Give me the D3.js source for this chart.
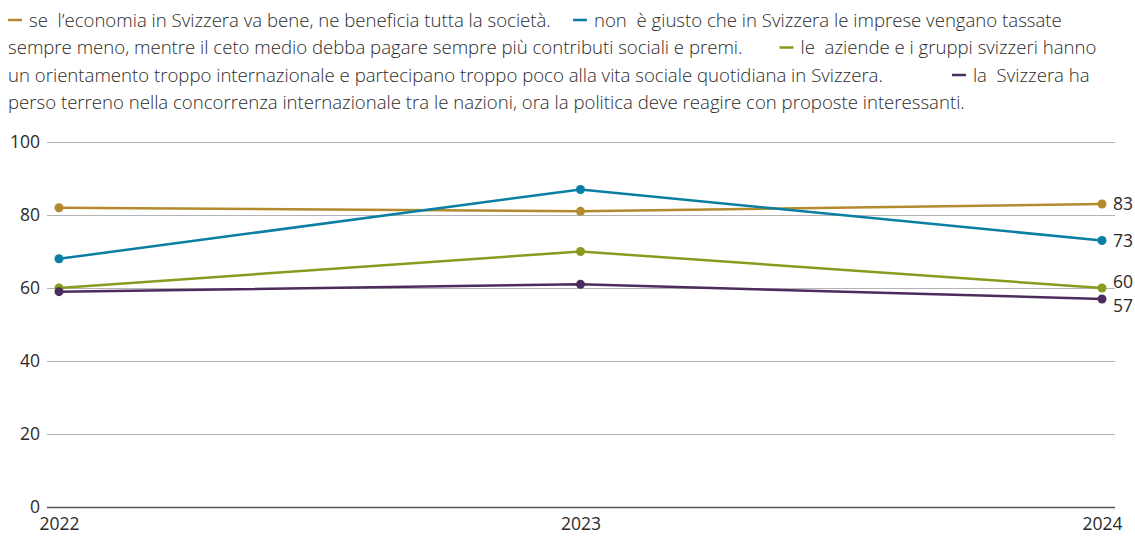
<!DOCTYPE html>
<html>
<head>
<meta charset="utf-8">
<script src="https://cdn.jsdelivr.net/npm/d3@7"></script>
<style>
  body { margin: 0; background: #fff; }
  svg { display: block; font-family: "Open Sans", "Noto Sans", sans-serif; }
</style>
</head>
<body>
<svg id="chart"></svg>
<script>
// data
const years = [2022, 2023, 2024];
const seriesNames = [
  "se  l’economia in Svizzera va bene, ne beneficia tutta la società.",
  "non  è giusto che in Svizzera le imprese vengano tassate sempre meno, mentre il ceto medio debba pagare sempre più contributi sociali e premi.",
  "le  aziende e i gruppi svizzeri hanno un orientamento troppo internazionale e partecipano troppo poco alla vita sociale quotidiana in Svizzera.",
  "la  Svizzera ha perso terreno nella concorrenza internazionale tra le nazioni, ora la politica deve reagire con proposte interessanti."
];
const economiaValues = [82, 81, 83];
const impreseValues = [68, 87, 73];
const aziendeValues = [60, 70, 60];
const svizzeraValues = [59, 61, 57];
const yTicks = [0, 20, 40, 60, 80, 100];

const colors = ["#b38a2d", "#0a7fa3", "#8a9a1e", "#4b2c5c"];
const allValues = [economiaValues, impreseValues, aziendeValues, svizzeraValues];

const series = seriesNames.map((name, i) => ({
  name: name,
  color: colors[i],
  values: years.map((y, j) => ({ year: y, value: allValues[i][j] }))
}));

const width = 1135;
const height = 536;
const textColor = "#2b2b2b";
const fontFamily = '"Open Sans", "Noto Sans", sans-serif';

const svg = d3.select("#chart")
  .attr("width", width)
  .attr("height", height);

//* legend, flowing like a paragraph
const legendFont = 18.6;
const legendLeft = 8;
const legendMaxX = 1105;
const legendTop = 20;
const lineHeight = 27.5;
const dashWidth = 14;
const itemGaps = [0, 27, 37, 69];

const legend = svg.append("g")
  .attr("font-size", legendFont)
  .attr("font-weight", 300)
  .attr("fill", textColor);

// helper to measure a text string
const measurer = legend.append("text").attr("visibility", "hidden");
function textWidth(s) {
  measurer.text(s);
  return measurer.node().getComputedTextLength();
}

let cx = legendLeft;
let line = 0;
series.forEach((s, i) => {
  if (i > 0) cx += itemGaps[i];
  const y = legendTop + line * lineHeight;
  legend.append("line")
    .attr("x1", cx).attr("x2", cx + dashWidth)
    .attr("y1", y).attr("y2", y)
    .attr("stroke", s.color)
    .attr("stroke-width", 2.5);
  cx += dashWidth + 7;

  // place words, wrapping at the right edge
  const words = s.name.split(" ");
  let current = "";
  let startX = cx;
  words.forEach(w => {
    const trial = current === "" ? w : current + " " + w;
    if (startX + textWidth(trial) > legendMaxX && current !== "") {
      legend.append("text")
        .attr("x", startX).attr("y", legendTop + line * lineHeight)
        .attr("dy", "0.35em")
        .style("white-space", "pre")
        .text(current);
      line += 1;
      startX = legendLeft;
      current = w;
    } else {
      current = trial;
    }
  });
  legend.append("text")
    .attr("x", startX).attr("y", legendTop + line * lineHeight)
    .attr("dy", "0.35em")
    .style("white-space", "pre")
    .text(current);
  cx = startX + textWidth(current);
});
measurer.remove();

//* chart area
const xScale = d3.scaleLinear()
  .domain(d3.extent(years))
  .range([59, 1102]);

const yScale = d3.scaleLinear()
  .domain([0, 100])
  .range([507, 142]);

const gridLeft = 47;
const gridRight = 1115;

const yAxis = d3.axisRight(yScale)
  .tickValues(yTicks)
  .tickSize(gridRight - gridLeft)
  .tickFormat(d3.format("d"));

const yG = svg.append("g")
  .attr("transform", `translate(${gridLeft}, 0)`)
  .call(yAxis)
  .attr("font-family", fontFamily)
  .attr("font-size", 17.5);
yG.select(".domain").remove();
yG.selectAll(".tick line")
  .attr("stroke", d => d === 0 ? "#555" : "#b4b4b4")
  .attr("stroke-width", d => d === 0 ? 1.5 : 1);
yG.selectAll(".tick text")
  .attr("x", -7)
  .attr("text-anchor", "end")
  .attr("fill", textColor);

const xAxis = d3.axisBottom(xScale)
  .tickValues(years)
  .tickSize(0)
  .tickPadding(11)
  .tickFormat(d3.format("d"));

const xG = svg.append("g")
  .attr("transform", `translate(0, ${yScale(0)})`)
  .call(xAxis)
  .attr("font-family", fontFamily)
  .attr("font-size", 17.5);
xG.select(".domain").remove();
xG.selectAll(".tick text")
  .attr("fill", textColor);

//* lines and points
const lineGen = d3.line()
  .x(d => xScale(d.year))
  .y(d => yScale(d.value));

const groups = svg.selectAll(".series")
  .data(series)
  .enter()
  .append("g")
  .classed("series", true);

groups.append("path")
  .attr("d", d => lineGen(d.values))
  .attr("fill", "none")
  .attr("stroke", d => d.color)
  .attr("stroke-width", 2.5);

groups.selectAll("circle")
  .data(d => d.values.map(v => ({ ...v, color: d.color })))
  .enter()
  .append("circle")
  .attr("cx", d => xScale(d.year))
  .attr("cy", d => yScale(d.value))
  .attr("r", 4.5)
  .attr("fill", d => d.color);

//* end labels, pushed apart when they collide
const minGap = 24;
const ends = series.map(s => {
  const last = s.values[s.values.length - 1];
  return { value: last.value, y: yScale(last.value) };
}).sort((a, b) => a.y - b.y);

for (let k = 0; k < 10; k++) {
  for (let i = 1; i < ends.length; i++) {
    const overlap = minGap - (ends[i].y - ends[i - 1].y);
    if (overlap > 0) {
      ends[i - 1].y -= overlap / 2;
      ends[i].y += overlap / 2;
    }
  }
}

svg.append("g")
  .selectAll("text")
  .data(ends)
  .enter()
  .append("text")
  .attr("x", xScale(years[years.length - 1]) + 11)
  .attr("y", d => d.y)
  .attr("dy", "0.35em")
  .attr("font-size", 17.5)
  .attr("fill", textColor)
  .text(d => d.value);
</script>
</body>
</html>
